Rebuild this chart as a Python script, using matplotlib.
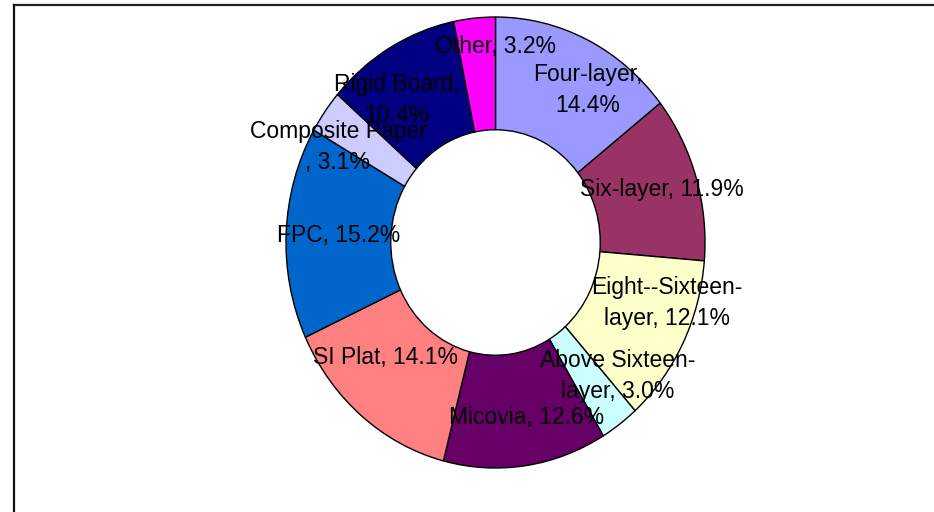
import matplotlib
matplotlib.use('Agg')
from matplotlib import pyplot as plt
from matplotlib.lines import Line2D

plt.rcParams['font.family'] = ['Liberation Sans', 'DejaVu Sans']

# Market share by board type (%), clockwise from the top.
labels = ['Four-layer,\n14.4%', 'Six-layer, 11.9%', 'Eight--Sixteen-\nlayer, 12.1%',
          'Above Sixteen-\nlayer, 3.0%', 'Micovia, 12.6%', 'SI Plat, 14.1%',
          'FPC, 15.2%', 'Composite Paper\n, 3.1%', 'Rigid Board,\n10.4%', 'Other, 3.2%']
shares = [14.4, 11.9, 12.1, 3.0, 12.6, 14.1, 15.2, 3.1, 10.4, 3.2]
colors = ['#9999FF', '#993366', '#FFFFCC', '#CCFFFF', '#660066',
          '#FF8080', '#0066CC', '#CCCCFF', '#000080', '#FF00FF']

# where each label sits (data coords, pie radius = 1)
label_pos = [(0.442, 0.676), (0.795, 0.233), (0.819, -0.268), (0.585, -0.592),
             (0.146, -0.774), (-0.523, -0.508), (-0.747, 0.033), (-0.752, 0.424),
             (-0.470, 0.632), (-0.002, 0.867)]

W, H = 934, 512
fig = plt.figure(figsize=(W / 100, H / 100), dpi=100)
fig.patch.set_facecolor('white')

# axes placed so the ring matches the (slightly stretched) original
ax = fig.add_axes([286 / W, (H - 468) / H, 419 / W, 451 / H])
ax.pie(shares, colors=colors, startangle=90, counterclock=False, radius=1,
       wedgeprops=dict(width=0.5, edgecolor='black', linewidth=1.0))
ax.set_aspect('auto')
ax.set_xlim(-1, 1)
ax.set_ylim(-1, 1)
ax.axis('off')

for text, (x, y) in zip(labels, label_pos):
    ax.text(x, y, text, ha='center', va='center', fontsize=16.5,
            linespacing=1.43, color='black', clip_on=False)

# frame lines (top and left only, as in the original)
fig.add_artist(Line2D([14 / W, 1], [1 - 5 / H, 1 - 5 / H], color='#202020', lw=1.6,
                      transform=fig.transFigure))
fig.add_artist(Line2D([14 / W, 14 / W], [1 - 5 / H, 0], color='#101010', lw=1.6,
                      transform=fig.transFigure))

fig.savefig('out.png', dpi=100, facecolor='white')
